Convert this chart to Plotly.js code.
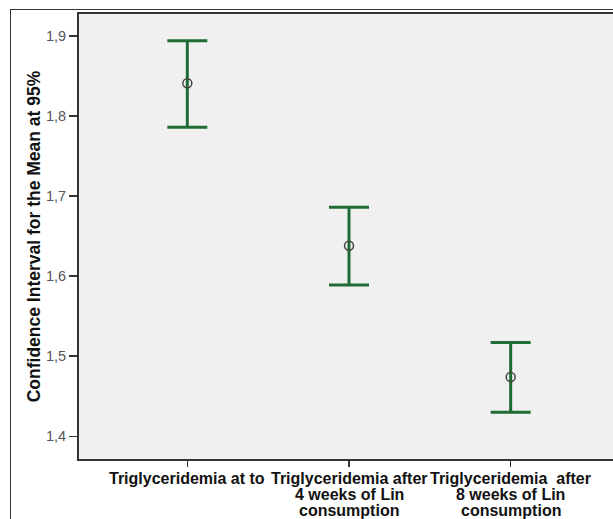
<!DOCTYPE html>
<html>
<head>
<meta charset="utf-8">
<script src="https://cdn.plot.ly/plotly-3.0.1.min.js"></script>
<style>
html,body{margin:0;padding:0;background:#fff;overflow:hidden;width:613px;height:519px;}
#frame{position:absolute;left:10px;top:9px;width:700px;height:600px;border:1px solid #333;box-sizing:border-box;}
#chart{position:absolute;left:0;top:0;}
</style>
</head>
<body>
<div id="frame"></div>
<div id="chart"></div>
<script>
const categories = [
  "Triglyceridemia at to",
  "Triglyceridemia after<br>4 weeks of Lin<br>consumption",
  "Triglyceridemia&nbsp;&nbsp;after<br>8 weeks of Lin<br>consumption"
];
const means = [1.841, 1.638, 1.474];
const upper = [1.894, 1.686, 1.517];
const lower = [1.786, 1.589, 1.430];
const yTicks = [1.4, 1.5, 1.6, 1.7, 1.8, 1.9];

const FONT = 'Liberation Sans, Arial, sans-serif';

const trace = {
  type: 'scatter',
  mode: 'markers',
  x: categories,
  y: means,
  marker: {symbol: 'circle-open', size: 9, color: '#444', line: {width: 1.5, color: '#444'}},
  error_y: {
    type: 'data',
    symmetric: false,
    array: upper.map((u, i) => u - means[i]),
    arrayminus: means.map((m, i) => m - lower[i]),
    color: '#1e6b35',
    thickness: 3,
    width: 20
  },
  hoverinfo: 'none'
};

// category labels: each line placed as an annotation on the category axis
const annotations = [];
categories.forEach((cat, i) => {
  cat.split('<br>').forEach((line, j) => {
    annotations.push({
      x: cat, xref: 'x', y: 0, yref: 'paper',
      yanchor: 'middle', xanchor: 'center',
      yshift: -19 - 16 * j,
      showarrow: false,
      text: line,
      font: {family: FONT, size: 16, color: '#111', weight: 'bold'}
    });
  });
});

const layout = {
  width: 619,
  height: 519,
  margin: {l: 79, r: 0, t: 14, b: 60},
  paper_bgcolor: 'rgba(0,0,0,0)',
  plot_bgcolor: '#f0f0f0',
  separators: ',.',
  showlegend: false,
  font: {family: FONT},
  annotations: annotations,
  xaxis: {
    type: 'category',
    range: [-0.67, 2.67],
    showgrid: false,
    zeroline: false,
    showline: true,
    mirror: true,
    linecolor: '#333',
    linewidth: 2,
    ticks: 'outside',
    ticklen: 6,
    tickcolor: '#333',
    tickwidth: 1.5,
    showticklabels: false
  },
  yaxis: {
    range: [1.3716, 1.9275],
    tickvals: yTicks,
    tickformat: '.1f',
    showgrid: false,
    zeroline: false,
    showline: true,
    mirror: true,
    linecolor: '#333',
    linewidth: 2,
    ticks: 'outside',
    ticklen: 8,
    tickcolor: '#333',
    tickwidth: 1.5,
    ticklabelstandoff: 0,
    tickfont: {family: FONT, size: 14.5, color: '#555'},
    title: {
      text: 'Confidence Interval for the Mean at 95%',
      font: {family: FONT, size: 17.5, color: '#111', weight: 'bold'},
      standoff: 1
    }
  }
};

Plotly.newPlot('chart', [trace], layout, {displayModeBar: false, staticPlot: true});
</script>
</body>
</html>
